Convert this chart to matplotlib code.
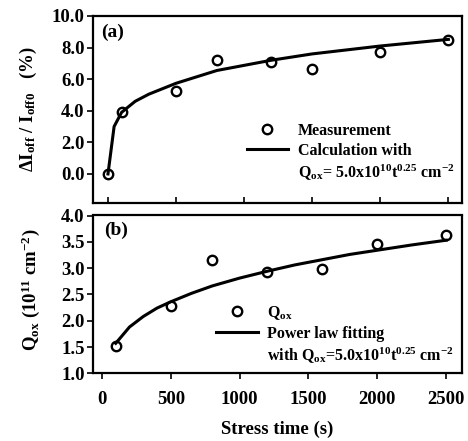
import matplotlib
matplotlib.use("Agg")
import matplotlib.pyplot as plt
from matplotlib.lines import Line2D

plt.rcParams['font.family'] = ['Liberation Serif', 'DejaVu Serif']
plt.rcParams['font.weight'] = 'bold'
plt.rcParams['mathtext.fontset'] = 'custom'
plt.rcParams['mathtext.rm'] = 'Liberation Serif:bold'
plt.rcParams['mathtext.it'] = 'Liberation Serif:bold:italic'
plt.rcParams['mathtext.bf'] = 'Liberation Serif:bold'
plt.rcParams['mathtext.default'] = 'rm'

# ---- data (a) ----
meas_t_a = [0, 100, 500, 800, 1200, 1500, 2000, 2500]
meas_v_a = [0.0, 3.9, 5.25, 7.2, 7.07, 6.67, 7.7, 8.48]
calc_t_a = [0, 45, 100, 200, 300, 500, 800, 1200, 1500, 2000, 2500]
calc_v_a = [0.0, 3.0, 3.9, 4.6, 5.05, 5.74, 6.55, 7.2, 7.6, 8.1, 8.52]

# ---- data (b) ----
meas_t_b = [100, 500, 800, 1200, 1600, 2000, 2500]
meas_v_b = [1.52, 2.28, 3.16, 2.93, 2.98, 3.46, 3.62]
fit_t_b = [100, 200, 300, 400, 500, 650, 800, 1000, 1200, 1400, 1600, 1800, 2000, 2250, 2500]
fit_v_b = [1.57, 1.88, 2.08, 2.24, 2.36, 2.52, 2.66, 2.81, 2.94, 3.06, 3.16, 3.26, 3.34, 3.44, 3.53]

xticks = [0, 500, 1000, 1500, 2000, 2500]
yticks_a = [0, 2, 4, 6, 8, 10]
yticks_b = [1.0, 1.5, 2.0, 2.5, 3.0, 3.5, 4.0]

W, H = 468, 441
fig = plt.figure(figsize=(W / 100, H / 100), dpi=100)

def rect(l, t, r, b):
    return [l / W, 1 - b / H, (r - l) / W, (b - t) / H]

axa = fig.add_axes(rect(93, 16, 462, 203))
axb = fig.add_axes(rect(93, 215.5, 462, 373.3))

fs = 11.5
fst = 13.5
mk = dict(marker='o', ms=6.8, mfc='none', mec='black', mew=1.7, ls='none')
lw = 2.2

# panel (a)
axa.plot(calc_t_a, calc_v_a, color='black', lw=lw)
axa.plot(meas_t_a, meas_v_a, **mk)
axa.set_xlim(-110, 2600)
axa.set_ylim(-1.84, 10)
axa.set_xticks(xticks)
axa.set_xticklabels([])
axa.tick_params(axis='x', direction='in', length=4, width=1.2)
axa.set_yticks(yticks_a)
axa.set_yticklabels(['%.1f' % v for v in yticks_a], fontsize=fst, fontweight='bold')
axa.tick_params(axis='y', direction='out', length=4, width=1.2, pad=2)
axa.set_ylabel(r'$\Delta$I$_{\mathrm{off}}$ / I$_{\mathrm{off0}}$   (%)', fontsize=fst, fontweight='bold')
axa.yaxis.set_label_coords(-0.145, 0.5)
axa.text(0.022, 0.96, '(a)', transform=axa.transAxes, fontsize=14, fontweight='bold', va='top', ha='left')

ha = [Line2D([], [], **mk), Line2D([], [], color='black', lw=lw), Line2D([], [], ls='none')]
la = ['Measurement', 'Calculation with', r'Q$_{\mathrm{ox}}$= 5.0x10$^{10}$t$^{0.25}$ cm$^{-2}$']
axa.legend(ha, la, loc='lower right', bbox_to_anchor=(1.005, 0.055), frameon=False,
           handlelength=2.6, handletextpad=0.6, labelspacing=0.25,
           borderaxespad=0.2, prop={'weight': 'bold', 'size': fs})

# panel (b)
axb.plot(fit_t_b, fit_v_b, color='black', lw=lw)
axb.plot(meas_t_b, meas_v_b, **mk)
axb.set_xlim(-65, 2615)
axb.set_ylim(1.0, 4.0)
axb.set_xticks(xticks)
axb.set_xticklabels([str(v) for v in xticks], fontsize=fst, fontweight='bold')
axb.set_yticks(yticks_b)
axb.set_yticklabels(['%.1f' % v for v in yticks_b], fontsize=fst, fontweight='bold')
axb.tick_params(axis='both', direction='out', length=4, width=1.2, pad=2)
axb.tick_params(axis='x', pad=8.5)
axb.set_xlabel('Stress time (s)', fontsize=fst, fontweight='bold', labelpad=9.5)
axb.set_ylabel(r'Q$_{\mathrm{ox}}$ (10$^{11}$ cm$^{-2}$)', fontsize=fst, fontweight='bold')
axb.yaxis.set_label_coords(-0.138, 0.53)
axb.text(0.03, 0.96, '(b)', transform=axb.transAxes, fontsize=14, fontweight='bold', va='top', ha='left')

hb = [Line2D([], [], **mk), Line2D([], [], color='black', lw=lw), Line2D([], [], ls='none')]
lb = [r'Q$_{\mathrm{ox}}$', 'Power law fitting', r'with Q$_{\mathrm{ox}}$=5.0x10$^{10}$t$^{0.25}$ cm$^{-2}$']
axb.legend(hb, lb, loc='lower right', bbox_to_anchor=(1.005, -0.015), frameon=False,
           handlelength=2.6, handletextpad=0.6, labelspacing=0.25,
           borderaxespad=0.2, prop={'weight': 'bold', 'size': fs})

for ax in (axa, axb):
    for s in ax.spines.values():
        s.set_linewidth(1.6)

fig.savefig('out.png', dpi=100)
